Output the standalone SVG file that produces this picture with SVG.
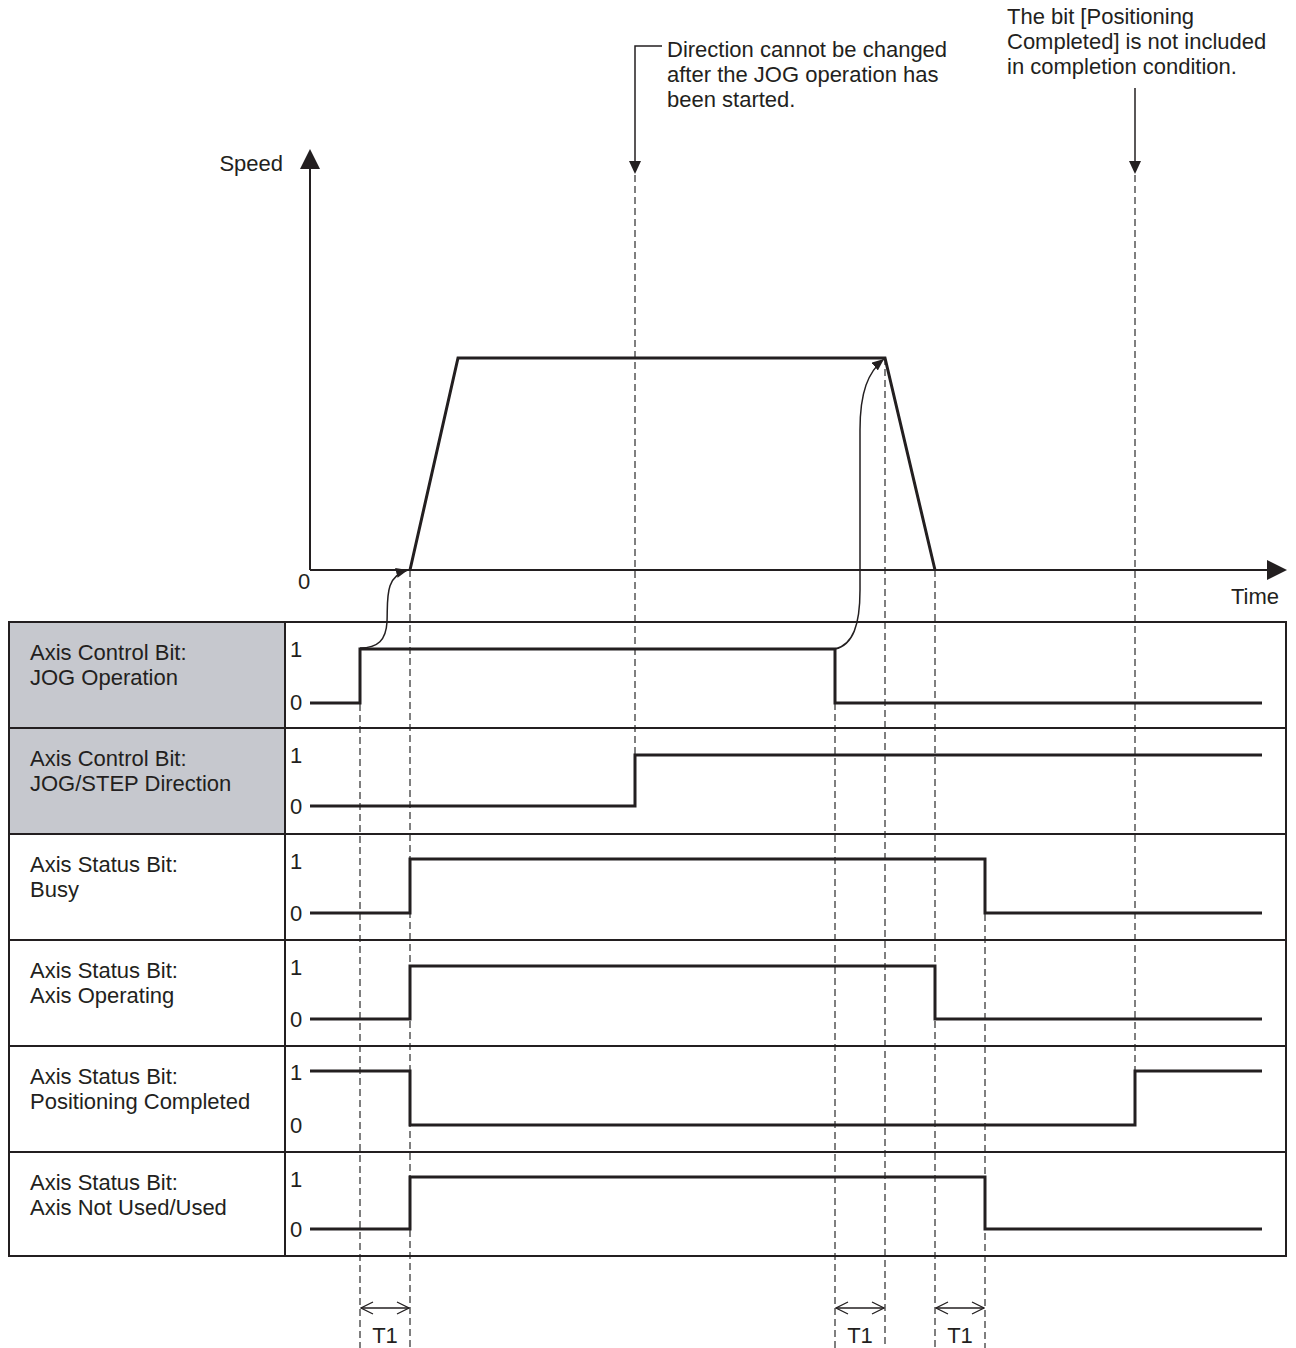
<svg xmlns="http://www.w3.org/2000/svg" width="1296" height="1348" viewBox="0 0 1296 1348">
<style>
text{font-family:"Liberation Sans",Arial,sans-serif;font-size:22px;fill:#231f20}
.tbl{fill:none;stroke:#231f20;stroke-width:2}
.sig{fill:none;stroke:#231f20;stroke-width:3;stroke-linejoin:miter}
.dash{fill:none;stroke:#555;stroke-width:1.5;stroke-dasharray:7 4}
.thin{fill:none;stroke:#231f20;stroke-width:1.5}
.ax{fill:none;stroke:#231f20;stroke-width:2}
.prof{fill:none;stroke:#231f20;stroke-width:3;stroke-linejoin:miter}
</style>
<defs>
<marker id="ah" viewBox="0 0 12 10" refX="12" refY="5" markerWidth="12" markerHeight="10" markerUnits="userSpaceOnUse" orient="auto">
<path d="M0,0 L12,5 L0,10 Z" fill="#231f20"/>
</marker>
<marker id="open" viewBox="0 0 14 14" refX="13" refY="7" markerWidth="14" markerHeight="14" markerUnits="userSpaceOnUse" orient="auto-start-reverse">
<path d="M1,1 L13,7 L1,13" fill="none" stroke="#231f20" stroke-width="1.3"/>
</marker>
</defs>

<g id="dashed-guides">
<line class="dash" x1="360" y1="649" x2="360" y2="1348"/>
<line class="dash" x1="410" y1="570" x2="410" y2="1348"/>
<line class="dash" x1="635" y1="175" x2="635" y2="755"/>
<line class="dash" x1="835" y1="703" x2="835" y2="1348"/>
<line class="dash" x1="885" y1="358" x2="885" y2="1348"/>
<line class="dash" x1="935" y1="570" x2="935" y2="1348"/>
<line class="dash" x1="985" y1="859" x2="985" y2="1348"/>
<line class="dash" x1="1135" y1="175" x2="1135" y2="1071"/>
</g>

<g id="speed-graph">
<line class="ax" x1="310" y1="570" x2="310" y2="165"/>
<path d="M300,169 L310,149 L320,169 Z" fill="#231f20"/>
<line class="ax" x1="310" y1="570" x2="1270" y2="570"/>
<path d="M1267,560 L1287,570 L1267,580 Z" fill="#231f20"/>
<text x="283" y="171" text-anchor="end">Speed</text>
<text x="298" y="589">0</text>
<text x="1279" y="604" text-anchor="end">Time</text>
<path class="prof" d="M410,570 L458,358 L885,358 L935,570"/>
</g>

<g id="note-direction">
<path class="thin" d="M662,46 L635,46 L635,163"/>
<path d="M629,161 L641,161 L635,174 Z" fill="#231f20"/>
<text x="667" y="57">Direction cannot be changed</text>
<text x="667" y="82">after the JOG operation has</text>
<text x="667" y="107">been started.</text>
</g>

<g id="note-positioning">
<line class="thin" x1="1135" y1="88" x2="1135" y2="163"/>
<path d="M1129,161 L1141,161 L1135,174 Z" fill="#231f20"/>
<text x="1007" y="24">The bit [Positioning</text>
<text x="1007" y="49">Completed] is not included</text>
<text x="1007" y="74">in completion condition.</text>
</g>

<g id="table">
<rect x="9" y="622" width="276" height="212" fill="#c6c8ce"/>
<rect class="tbl" x="9" y="622" width="1277" height="634"/>
<line class="tbl" x1="285" y1="622" x2="285" y2="1256"/>
<line class="tbl" x1="9" y1="728" x2="1286" y2="728"/>
<line class="tbl" x1="9" y1="834" x2="1286" y2="834"/>
<line class="tbl" x1="9" y1="940" x2="1286" y2="940"/>
<line class="tbl" x1="9" y1="1046" x2="1286" y2="1046"/>
<line class="tbl" x1="9" y1="1152" x2="1286" y2="1152"/>
</g>

<g id="row-jog-operation">
<text x="30" y="660">Axis Control Bit:</text>
<text x="30" y="685">JOG Operation</text>
<text x="290" y="657">1</text>
<text x="290" y="710">0</text>
<path class="sig" d="M310,703 L360,703 L360,649 L835,649 L835,703 L1262,703"/>
</g>

<g id="row-direction">
<text x="30" y="766">Axis Control Bit:</text>
<text x="30" y="791">JOG/STEP Direction</text>
<text x="290" y="763">1</text>
<text x="290" y="814">0</text>
<path class="sig" d="M310,806 L635,806 L635,755 L1262,755"/>
</g>

<g id="row-busy">
<text x="30" y="872">Axis Status Bit:</text>
<text x="30" y="897">Busy</text>
<text x="290" y="869">1</text>
<text x="290" y="921">0</text>
<path class="sig" d="M310,913 L410,913 L410,859 L985,859 L985,913 L1262,913"/>
</g>

<g id="row-operating">
<text x="30" y="978">Axis Status Bit:</text>
<text x="30" y="1003">Axis Operating</text>
<text x="290" y="975">1</text>
<text x="290" y="1027">0</text>
<path class="sig" d="M310,1019 L410,1019 L410,966 L935,966 L935,1019 L1262,1019"/>
</g>

<g id="row-positioning">
<text x="30" y="1084">Axis Status Bit:</text>
<text x="30" y="1109">Positioning Completed</text>
<text x="290" y="1080">1</text>
<text x="290" y="1133">0</text>
<path class="sig" d="M310,1071 L410,1071 L410,1125 L1135,1125 L1135,1071 L1262,1071"/>
</g>

<g id="row-used">
<text x="30" y="1190">Axis Status Bit:</text>
<text x="30" y="1215">Axis Not Used/Used</text>
<text x="290" y="1187">1</text>
<text x="290" y="1237">0</text>
<path class="sig" d="M310,1229 L410,1229 L410,1177 L985,1177 L985,1229 L1262,1229"/>
</g>

<g id="connectors">
<path class="thin" d="M360,648 C378,648 386,640 387,622 C388,600 384,576 408,570" marker-end="url(#ah)"/>
<path class="thin" d="M835,649 C853,645 860,625 860,590 L860,430 C860,392 868,372 884,359" marker-end="url(#ah)"/>
<line class="thin" x1="361" y1="1308" x2="409" y2="1308" marker-start="url(#open)" marker-end="url(#open)"/>
<line class="thin" x1="836" y1="1308" x2="884" y2="1308" marker-start="url(#open)" marker-end="url(#open)"/>
<line class="thin" x1="936" y1="1308" x2="984" y2="1308" marker-start="url(#open)" marker-end="url(#open)"/>
<text x="385" y="1343" text-anchor="middle">T1</text>
<text x="860" y="1343" text-anchor="middle">T1</text>
<text x="960" y="1343" text-anchor="middle">T1</text>
</g>
</svg>
